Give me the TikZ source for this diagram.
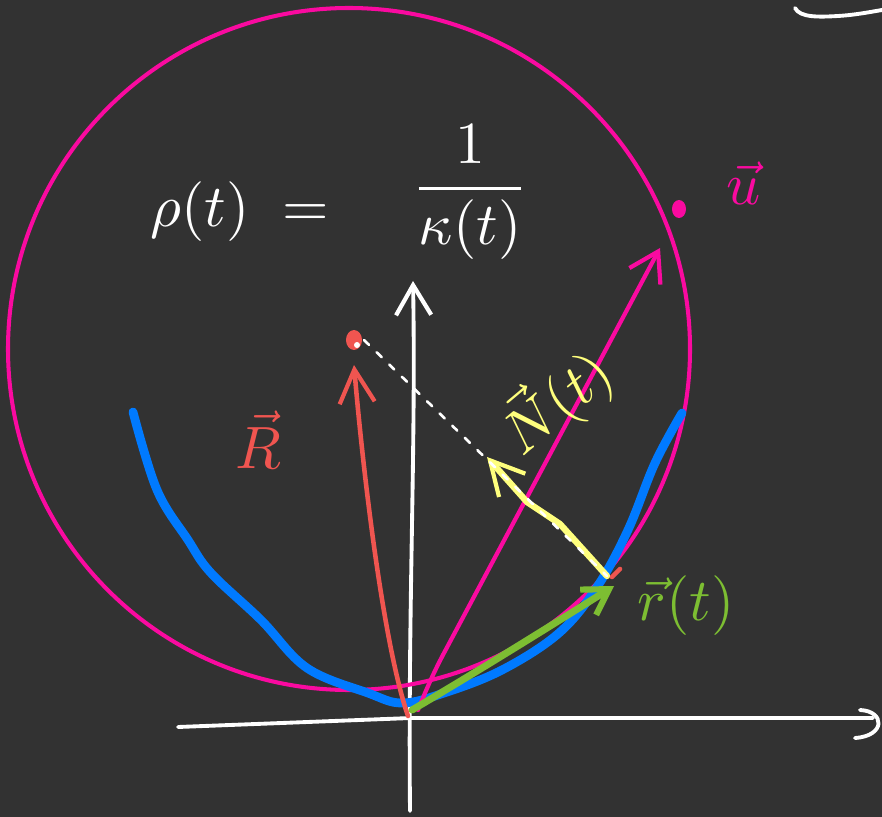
\documentclass[tikz,border=0pt]{standalone}
\usepackage{amsmath}
\usepackage{graphicx}
\usepackage{tikz}
\usetikzlibrary{arrows.meta}
\usepackage{xcolor}
\definecolor{board}{RGB}{50,50,50}
\definecolor{vpink}{RGB}{250,10,160}
\definecolor{vblue}{RGB}{0,122,255}
\definecolor{vred}{RGB}{240,85,80}
\definecolor{vyellow}{RGB}{255,255,125}
\definecolor{vgreen}{RGB}{125,190,50}
\newcommand{\boardtxt}[1]{\scalebox{3.4}{#1}}

\begin{document}
\begin{tikzpicture}[x=0.02cm, y=-0.02cm, line cap=round, line join=round]
\tikzset{chalk/.style={draw=white, line width=2.2pt}}
\tikzset{vecline/.style={line width=2.6pt}}
\tikzset{barb/.style={-{Straight Barb[length=#1pt, width=20pt, line width=2.4pt]}}}

\fill[board] (0,0) rectangle (882,817);
\useasboundingbox (0,0) rectangle (882,817);

% axes
\coordinate (xs) at (178,727);
\coordinate (O) at (411,718);
\coordinate (xe) at (873,718);
\coordinate (ys) at (410,811);
\coordinate (ye) at (413,281);
\draw[chalk] (xs) -- (O) -- (xe);
\draw[chalk] (860,710) .. controls (885,711) and (886,736) .. (855,738);
\draw[chalk, barb=17] (ys) .. controls (408,600) and (416,450) .. (ye);
\draw[chalk] (795,8) .. controls (800,18) and (820,17) .. (838,16) .. controls (855,15) and (870,12) .. (882,10);

% osculating circle
\coordinate (C) at (349,349);
\draw[vpink, line width=2.3pt] (C) circle[radius=341];

% curve r(t)
\draw[vblue, line width=5pt] plot[smooth, tension=0.6] coordinates {(133,412) (157,490) (188,540) (211,573) (261,620) (307,668) (368,693) (402,703) (444,693) (502,670) (559,633) (597,587) (628,530) (655,463) (682,413)};

% formula
\node[text=white] (rho) at (240,212) {\boardtxt{$\rho(t)\;=$}};
\node[text=white] (curv) at (470,192) {\boardtxt{$\dfrac{1}{\kappa(t)}$}};

% R vector
\coordinate (Rbase) at (408,716);
\coordinate (Rtip) at (354,365);
\draw[vred, vecline, barb=19] (Rbase) .. controls (382,640) and (362,460) .. (Rtip);
\node[text=vred] (Rlab) at (258,440) {\boardtxt{$\vec{R}$}};

% u vector
\coordinate (ubase) at (418,710);
\coordinate (utip) at (660,248);
\draw[vpink, line width=2.4pt, barb=16] (ubase) .. controls (428,685) and (436,668) .. (444,653) -- (utip);
\fill[vpink] (679,209) ellipse[x radius=7, y radius=9];
\node[text=vpink] (ulab) at (744,183) {\boardtxt{$\vec{u}$}};

% N vector with dashed radius
\coordinate (Nbase) at (607,576);
\coordinate (Ntip) at (487,457);
\draw[vyellow, line width=3.6pt, barb=19] (Nbase) -- (560,524) -- (527,502) -- (Ntip);
\draw[white, line width=1.5pt, dash pattern=on 4pt off 6pt] (364,340) -- (Nbase);
\node[text=vyellow, rotate=40] (Nlab) at (556,402) {\boardtxt{$\vec{N}(t)$}};

% centre point
\fill[vred] (354,340) ellipse[x radius=8, y radius=10];
\fill[white] (357,345) circle[radius=3];
\draw[vred, line width=2.6pt] (612,577) -- (620,569);

% r vector
\coordinate (rbase) at (412,710);
\coordinate (rtip) at (614,586);
\draw[vgreen, line width=4pt, -{Straight Barb[length=14pt, width=17pt, line width=3.5pt]}] (rbase) .. controls (480,670) and (560,620) .. (rtip);
\node[text=vgreen] (rlab) at (686,606) {\boardtxt{$\vec{r}(t)$}};
\end{tikzpicture}
\end{document}
